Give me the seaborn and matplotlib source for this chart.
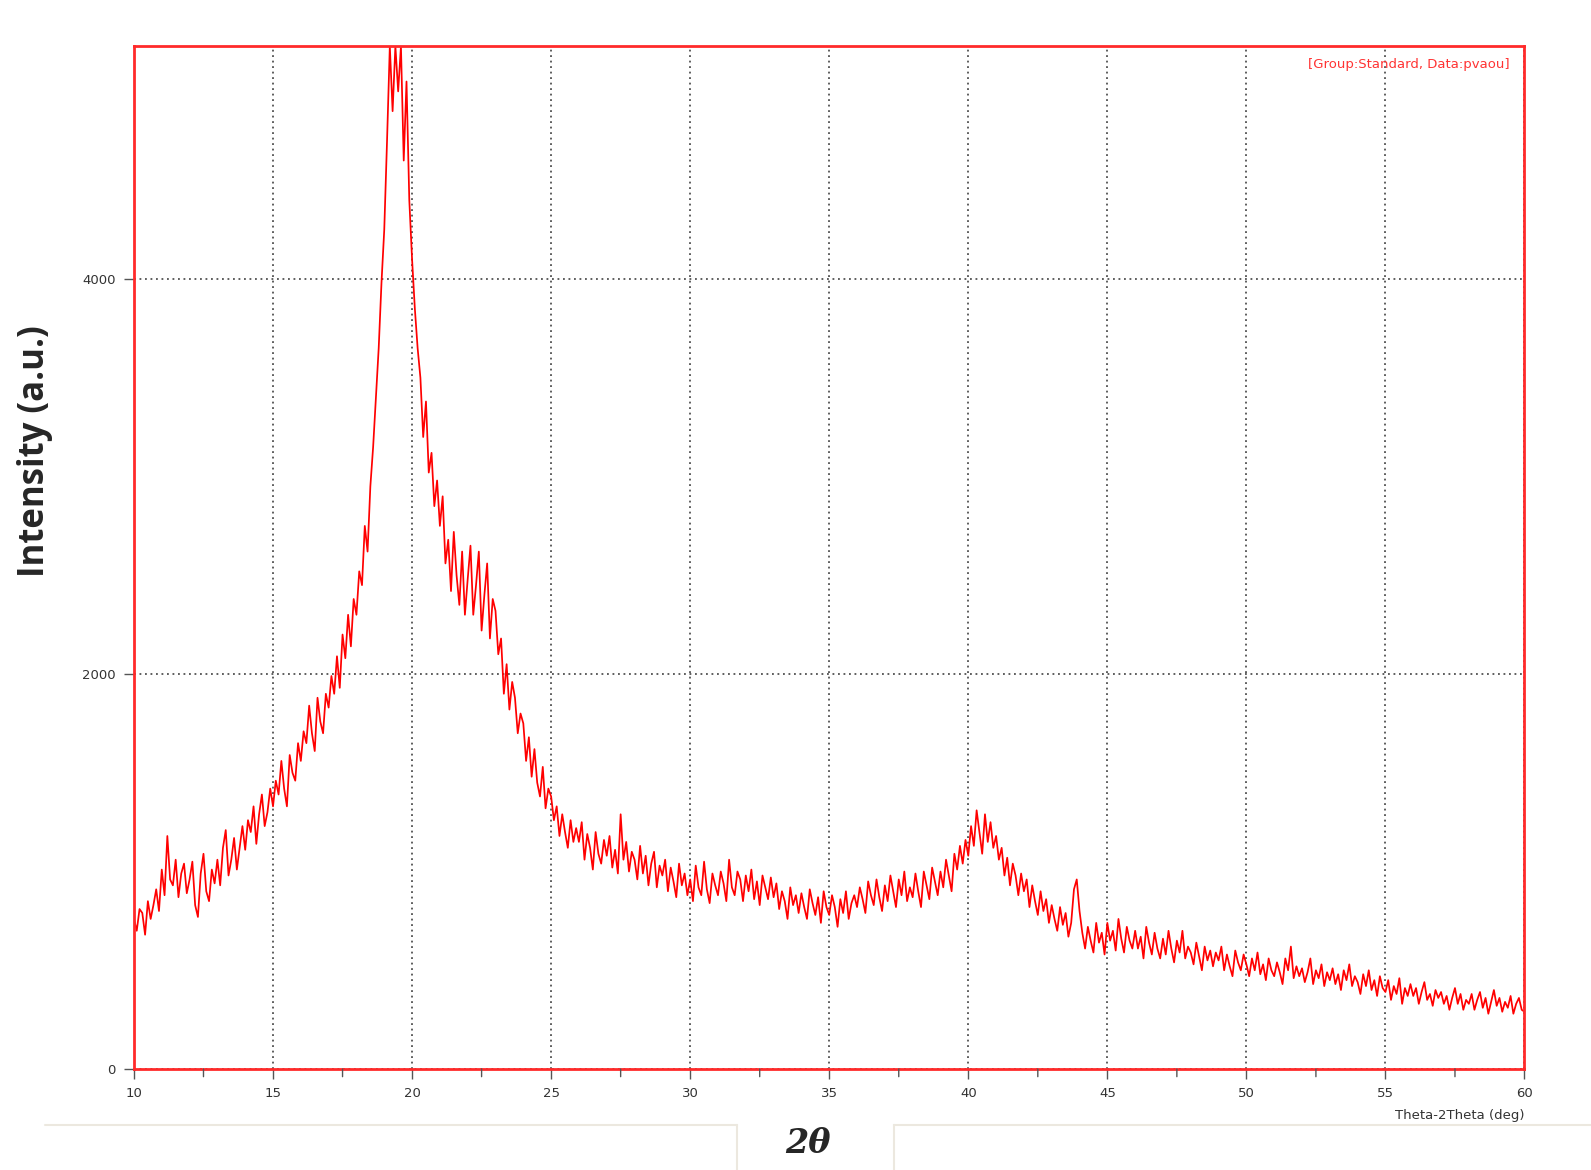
import numpy as np
import pandas as pd
import seaborn as sns
import matplotlib.pyplot as plt
from matplotlib.ticker import MultipleLocator
from matplotlib.lines import Line2D

# XRD scan, step 0.1 deg
two_theta = np.round(np.arange(10.0, 60.05, 0.1), 1)

counts_10_20 = [
    760, 700, 810, 790, 680, 850, 760, 830, 910, 800,
    1010, 880, 1180, 960, 930, 1060, 870, 990, 1040, 890,
    960, 1050, 830, 770, 990, 1090, 900, 850, 1010, 940,
    1060, 930, 1120, 1210, 980, 1060, 1170, 1010, 1120, 1230,
    1110, 1260, 1200, 1330, 1140, 1290, 1390, 1230, 1300, 1420,
    1330, 1460, 1390, 1560, 1420, 1330, 1590, 1500, 1460, 1650,
    1560, 1710, 1650, 1840, 1700, 1610, 1880, 1760, 1700, 1900,
    1830, 1990, 1900, 2090, 1930, 2200, 2080, 2300, 2140, 2380,
    2300, 2520, 2450, 2750, 2620, 2950, 3150, 3400, 3650, 3980,
    4250, 4700, 5180, 4850, 5180, 4950, 5180, 4600, 5000, 4400,
]
counts_20_30 = [
    4100, 3850, 3650, 3500, 3200, 3380, 3020, 3120, 2850, 2980,
    2750, 2900, 2560, 2680, 2420, 2720, 2500, 2350, 2620, 2300,
    2480, 2650, 2300, 2450, 2620, 2220, 2400, 2560, 2180, 2380,
    2320, 2100, 2180, 1900, 2050, 1820, 1960, 1880, 1700, 1800,
    1750, 1560, 1680, 1480, 1620, 1450, 1380, 1530, 1320, 1420,
    1380, 1260, 1330, 1180, 1290, 1200, 1120, 1260, 1150, 1220,
    1150, 1250, 1060, 1190, 1120, 1010, 1200, 1090, 1040, 1160,
    1080, 1180, 1020, 1110, 990, 1290, 1060, 1150, 1000, 1100,
    1060, 960, 1130, 990, 1080, 930, 1040, 1100, 920, 1030,
    980, 1060, 900, 1020, 950, 870, 1040, 930, 990, 880,
]
counts_30_40 = [
    960, 850, 1030, 920, 880, 1050, 910, 840, 990, 930,
    880, 1000, 940, 850, 1060, 920, 880, 1000, 960, 850,
    980, 900, 1010, 860, 950, 830, 980, 920, 860, 970,
    870, 940, 810, 900, 850, 760, 920, 830, 880, 790,
    890, 820, 760, 910, 840, 780, 870, 740, 900, 820,
    780, 880, 820, 720, 860, 790, 900, 760, 840, 880,
    820, 920, 860, 790, 950, 880, 830, 960, 870, 800,
    930, 850, 980, 900, 820, 960, 880, 1000, 850, 920,
    870, 990, 900, 820, 1000, 930, 860, 1020, 950, 880,
    1000, 920, 1060, 980, 900, 1090, 1010, 1130, 1040, 1160,
]
counts_40_50 = [
    1080, 1230, 1130, 1310, 1200, 1090, 1290, 1150, 1250, 1120,
    1180, 1060, 1120, 980, 1070, 930, 1040, 980, 880, 990,
    900, 960, 820, 930, 850, 780, 900, 800, 860, 740,
    830, 760, 700, 820, 730, 790, 670, 740, 910, 960,
    800, 690, 610, 720, 650, 590, 740, 640, 690, 580,
    740, 650, 700, 600, 760, 660, 590, 720, 650, 610,
    700, 610, 670, 560, 720, 640, 580, 690, 610, 560,
    660, 580, 700, 610, 540, 650, 590, 700, 560, 620,
    590, 530, 640, 570, 500, 620, 550, 600, 520, 590,
    550, 620, 500, 580, 520, 470, 600, 540, 500, 580,
]
counts_50_60 = [
    530, 470, 560, 500, 590, 480, 530, 450, 560, 500,
    470, 540, 490, 430, 560, 500, 620, 460, 520, 470,
    510, 440, 490, 560, 430, 500, 460, 530, 420, 490,
    450, 510, 430, 480, 400, 500, 450, 530, 420, 470,
    440, 380, 480, 420, 500, 400, 450, 370, 470, 410,
    390, 450, 350, 420, 380, 460, 330, 410, 370, 430,
    370, 410, 330, 390, 440, 350, 380, 320, 400, 360,
    390, 330, 370, 300, 360, 410, 330, 380, 300, 350,
    330, 380, 300, 350, 390, 310, 360, 280, 340, 400,
    320, 360, 290, 340, 310, 370, 280, 330, 360, 300,
    290,
]

intensity = counts_10_20 + counts_20_30 + counts_30_40 + counts_40_50 + counts_50_60
df = pd.DataFrame({'two_theta': two_theta, 'intensity': intensity})

sns.set_style('white')
plt.rcParams['font.family'] = ['DejaVu Sans']

fig = plt.figure(figsize=(15.91, 11.70), dpi=100)
ax = fig.add_axes([0.0842, 0.0863, 0.874, 0.8744])

sns.lineplot(data=df, x='two_theta', y='intensity', color='#ff0000',
             linewidth=1.25, ax=ax, estimator=None, sort=False)

ax.set_xlim(10, 60)
ax.set_ylim(0, 5180)
ax.set_xlabel('')
ax.set_ylabel('')

# ticks
ax.xaxis.set_major_locator(MultipleLocator(5))
ax.xaxis.set_minor_locator(MultipleLocator(0.5))
ax.yaxis.set_major_locator(MultipleLocator(2000))
ax.yaxis.set_minor_locator(MultipleLocator(200))
ax.tick_params(axis='both', which='major', direction='out', length=7, width=1,
               color='#555555', labelsize=9.5, labelcolor='#333333', pad=6)
ax.tick_params(axis='both', which='minor', direction='out', length=3.5, width=0.8,
               color='#555555')
ax.tick_params(left=True, bottom=True)

# dotted grid on the major ticks
ax.grid(True, which='major', color='#333333', linestyle=(0, (1.2, 2.4)), linewidth=1.1)

for side in ax.spines.values():
    side.set_color('#ff2a2a')
    side.set_linewidth(2)

# medium ticks at every 2.5 deg
for xv in np.arange(12.5, 60, 5):
    ax.annotate('', xy=(xv, 0), xycoords=('data', 'axes fraction'),
                xytext=(0, -5.5), textcoords='offset points',
                arrowprops=dict(arrowstyle='-', color='#555555', lw=1, shrinkA=0, shrinkB=0))

ax.text(0.9895, 0.988, '[Group:Standard, Data:pvaou]', transform=ax.transAxes,
        ha='right', va='top', color='#ff3333', fontsize=9.5)
ax.text(1.0, -0.039, 'Theta-2Theta (deg)', transform=ax.transAxes,
        ha='right', va='top', color='#333333', fontsize=9.5)

fig.text(0.022, 0.614, 'Intensity (a.u.)', rotation=90, ha='center', va='center',
         fontsize=25, fontweight='bold', family=['Open Sans', 'DejaVu Sans'])
fig.text(0.508, 0.023, '2θ', ha='center', va='center', fontsize=24,
         fontweight='bold', style='italic', family=['DejaVu Serif'])

# faint page-border lines around the axis caption
for xs, ys in [([0.028, 0.463], [0.0385, 0.0385]), ([0.562, 1.0], [0.0385, 0.0385]),
               ([0.463, 0.463], [0.0, 0.0385]), ([0.562, 0.562], [0.0, 0.0385])]:
    fig.add_artist(Line2D(xs, ys, color='#ece8df', lw=1.5))

fig.savefig('out.png', dpi=100, facecolor='white')
